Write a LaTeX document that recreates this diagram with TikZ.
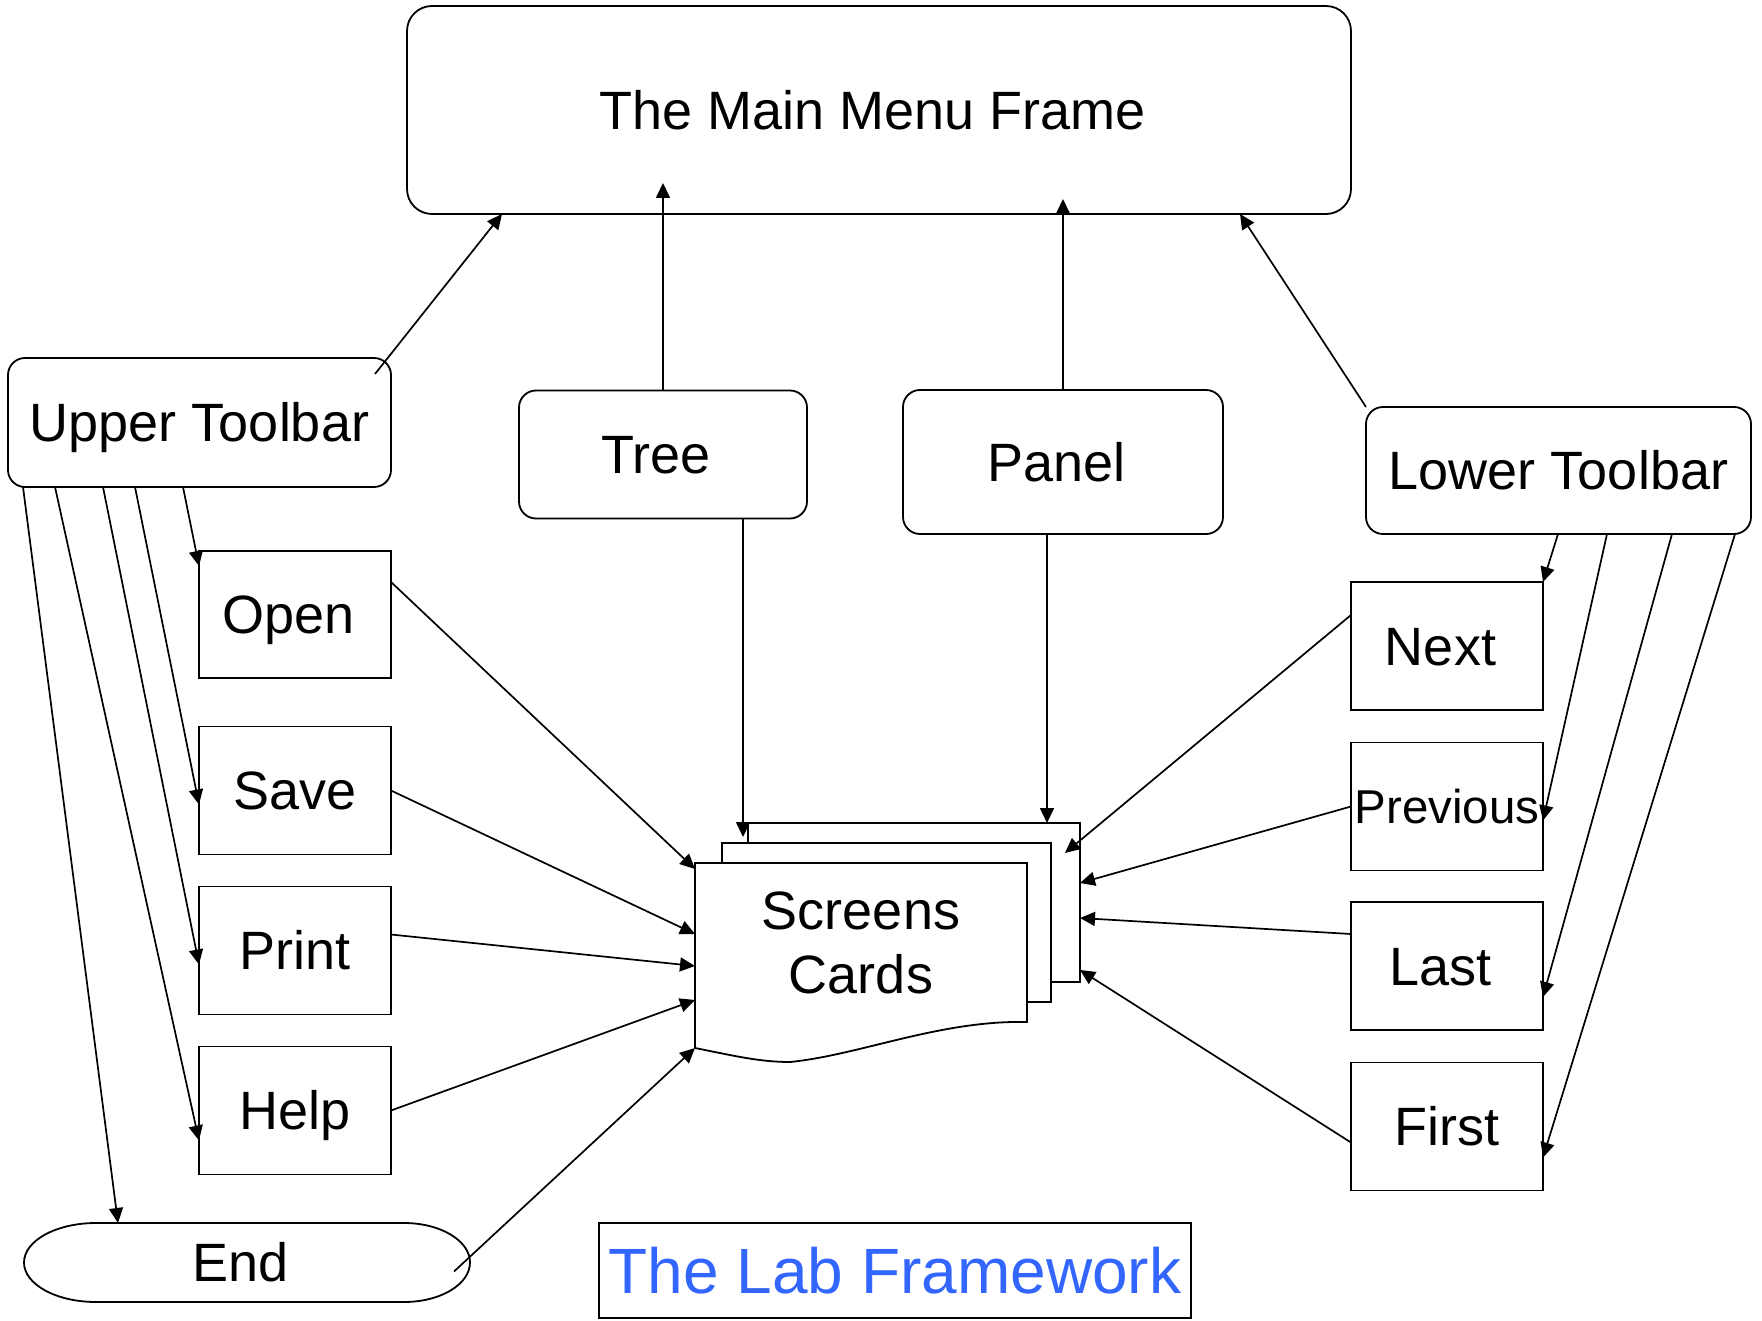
\documentclass[tikz,border=0pt]{standalone}
\usepackage{fontspec}
\setmainfont{Liberation Sans}
\usetikzlibrary{arrows.meta,calc}
\definecolor{labblue}{HTML}{3366FF}
% trailing space that moves a centred label slightly to the left
\newcommand{\lnudge}{\hspace*{13pt}}
\begin{document}
\begin{tikzpicture}[x=1pt,y=-1pt,
  every node/.style={inner sep=0pt, outer sep=0pt},
  frame/.style={draw, line width=1.8pt, text height=38.5pt, text depth=0pt,
    font=\fontsize{54pt}{60pt}\selectfont},
  roundbox/.style={frame, rounded corners=17pt},
  item/.style={frame, minimum width=192pt, minimum height=128pt},
  card/.style={draw, fill=white, line width=1.8pt, minimum height=159pt},
  link/.style={line width=1.7pt, -{Triangle[length=15pt,width=14pt]}},
]
\useasboundingbox (0,0) rectangle (1762,1321);

% ---- top frame and the four components below it
\node[roundbox, rounded corners=25pt, minimum width=944pt, minimum height=208pt]
  (main) at (879,110) {The Main Menu Frame\lnudge};
\node[roundbox, minimum width=383pt, minimum height=129pt] (ut) at (199.5,422.5) {Upper Toolbar};
\node[roundbox, minimum width=288pt, minimum height=128pt] (tree) at (663,454.5) {Tree\lnudge};
\node[roundbox, minimum width=320pt, minimum height=144pt] (panel) at (1063,462) {Panel\lnudge};
\node[roundbox, minimum width=385pt, minimum height=127pt] (lt) at (1558.5,470.5) {Lower Toolbar};

% ---- upper toolbar buttons
\node[item, minimum height=127pt] (open) at (295,614.5) {Open\lnudge};
\node[item] (save)  at (295,790.5)  {Save};
\node[item] (print) at (295,950.5)  {Print};
\node[item] (help)  at (295,1110.5) {Help};

% ---- lower toolbar buttons
\node[item] (next) at (1447,646)    {Next\lnudge};
\node[item, text height=34pt, font=\fontsize{47.5pt}{54pt}\selectfont]
            (prev) at (1447,806.5)  {Previous};
\node[item] (last)  at (1447,966)   {Last\lnudge};
\node[item] (first) at (1447,1126.5){First};

% ---- end terminator with elliptic ends
\node[minimum width=446pt, minimum height=79pt, text height=38.5pt, text depth=0pt,
  font=\fontsize{54pt}{60pt}\selectfont] (endn) at (247,1262.5) {End\lnudge};
\draw[line width=1.8pt]
  ([xshift=72pt]endn.north west) -- ([xshift=-66pt]endn.north east)
  arc[start angle=90, end angle=-90, x radius=66pt, y radius=39.5pt]
  -- ([xshift=72pt]endn.south west)
  arc[start angle=270, end angle=90, x radius=72pt, y radius=39.5pt] -- cycle;

% ---- stack of screen cards
\node[card, minimum width=332pt] (cardback) at (914,902.5) {};
\node[card, minimum width=329pt] (cardmid)  at (886.5,922.5) {};
\node[minimum width=332pt, minimum height=185pt] (cards) at (861,955.5) {};
\draw[line width=1.8pt, fill=white]
  (cards.south west) -- (cards.north west) -- (cards.north east)
  -- ([yshift=26pt]cards.south east)
  .. controls +(-87,-2) and +(70,-7) .. ($(cards.south west)+(95,14)$)
  .. controls +(-30,0) and +(40,8) .. (cards.south west);
\node[align=center, font=\fontsize{54pt}{64pt}\selectfont] (cardtext) at (861,943)
  {Screens\\Cards};

% ---- caption
\node[draw, line width=1.8pt, minimum width=592pt, minimum height=95pt,
  text height=46pt, text depth=0pt, text=labblue,
  font=\fontsize{64pt}{70pt}\selectfont] (lab) at (895,1270.5) {The Lab Framework};

% ---- connections to the main frame
\draw[link] ([xshift=-16pt,yshift=-16pt]ut.north east) -- ([xshift=95pt]main.south west);
\draw[link] (tree.north) -- ($(tree.north |- main.south)+(0,-31)$);
\draw[link] (panel.north) -- ($(panel.north |- main.south)+(0,-15)$);
\draw[link] (lt.north west) -- ([xshift=-111pt]main.south east);

% ---- upper toolbar to its buttons
\draw[link] ([xshift=175pt]ut.south west) -- ([yshift=-15pt]open.north west);
\draw[link] ([xshift=127pt]ut.south west) -- ([yshift=-14pt]save.west);
\draw[link] ([xshift=95pt]ut.south west)  -- ([yshift=-14pt]print.west);
\draw[link] ([xshift=47pt]ut.south west)  -- ([yshift=-30pt]help.west);
\draw[link] ([xshift=15pt]ut.south west)  -- ([xshift=94pt]endn.north west);

% ---- lower toolbar to its buttons
\draw[link] ([xshift=192pt]lt.south west) -- (next.north east);
\draw[link] ([xshift=241pt]lt.south west) -- ([yshift=-14pt]prev.east);
\draw[link] ([xshift=306pt]lt.south west) -- ([yshift=-31pt]last.east);
\draw[link] ([xshift=369pt]lt.south west) -- ([yshift=-31pt]first.east);

% ---- tree and panel down to the cards
\coordinate (treetip)  at ($(cardback.north west)+(-5,14)$);
\coordinate (paneltip) at ($(cardback.north east)+(-33,0)$);
\draw[link] (tree.south -| treetip) -- (treetip);
\draw[link] (panel.south -| paneltip) -- (paneltip);

% ---- buttons to the cards
\draw[link] ([yshift=-31pt]open.north east) -- ([yshift=-6pt]cards.north west);
\draw[link] (save.east) -- ([yshift=-71pt]cards.north west);
\draw[link] ([yshift=16pt]print.east) -- ([yshift=-103pt]cards.north west);
\draw[link] (help.east) -- ([yshift=-137pt]cards.north west);
\draw[link] ([xshift=-16pt,yshift=-9pt]endn.east) -- (cards.south west);

\draw[link] ([yshift=-33pt]next.north west) -- ($(cardback.north east)+(-15,30)$);
\draw[link] (prev.west) -- ([yshift=-60pt]cardback.north east);
\draw[link] ([yshift=32pt]last.west) -- ([yshift=-95pt]cardback.north east);
\draw[link] ([yshift=-16pt]first.west) -- ([yshift=-147pt]cardback.north east);
\end{tikzpicture}
\end{document}
